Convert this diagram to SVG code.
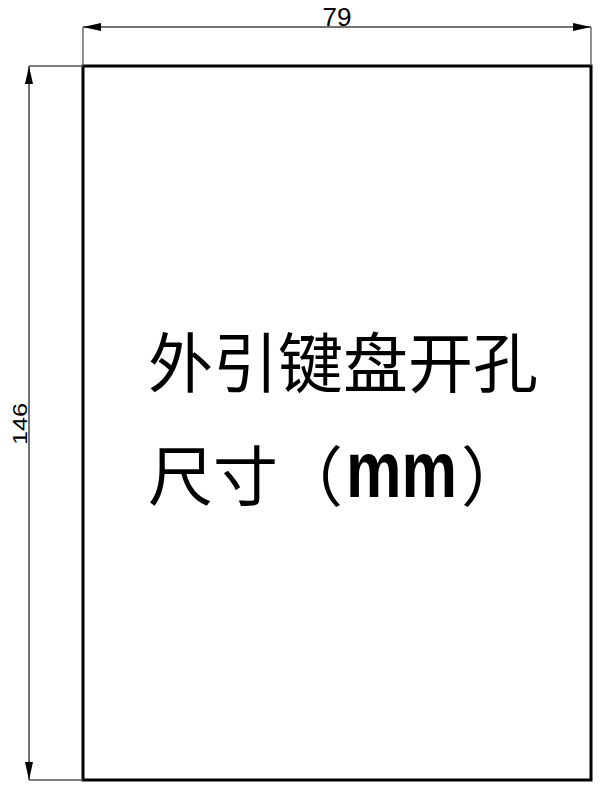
<svg xmlns="http://www.w3.org/2000/svg" width="600" height="792" viewBox="0 0 600 792">
<defs>
<style>
.dim{stroke:#444;stroke-width:1.5;fill:none}
.ext{stroke:#555;stroke-width:1.3;fill:none}
.lbl{font-family:"Liberation Sans",Arial,sans-serif;fill:#000}
.cjk{font-family:"Noto Sans CJK SC","Noto Sans CJK JP",sans-serif;font-size:65px;fill:#000}
</style>
<marker id="arr" viewBox="0 0 18 8" refX="18" refY="4" markerWidth="18" markerHeight="8" markerUnits="userSpaceOnUse" orient="auto-start-reverse">
<path d="M0,0 L18,4 L0,8 Z" fill="#000"/>
</marker>
</defs>
<rect width="600" height="792" fill="#fff"/>
<g id="outline">
<rect x="83" y="66" width="508" height="714" fill="none" stroke="#000" stroke-width="3"/>
</g>
<g id="connectors">
<path class="ext" d="M83,27 V66"/>
<path class="ext" d="M591,27 V66"/>
<path class="ext" d="M29,66 H83"/>
<path class="ext" d="M29,780 H83"/>
<path class="dim" d="M83,27 H591" marker-start="url(#arr)" marker-end="url(#arr)"/>
<path class="dim" d="M29,66 V780" marker-start="url(#arr)" marker-end="url(#arr)"/>
</g>
<g id="dim-width">
<text class="lbl" x="337" y="26" font-size="26" text-anchor="middle">79</text>
</g>
<g id="dim-height">
<text class="lbl" x="0" y="0" font-size="21" text-anchor="middle" transform="translate(27,424) rotate(-90) scale(1.2,1)">146</text>
</g>
<g id="title">
<text class="cjk" x="148" y="387">外引键盘开孔</text>
<text class="cjk" x="148" y="500">尺寸</text>
<text class="cjk" x="278" y="500">（</text>
<text class="lbl" x="0" y="0" font-size="80" font-weight="bold" transform="translate(346,497) scale(0.78,1)">mm</text>
<text class="cjk" x="461" y="500">）</text>
</g>
</svg>
